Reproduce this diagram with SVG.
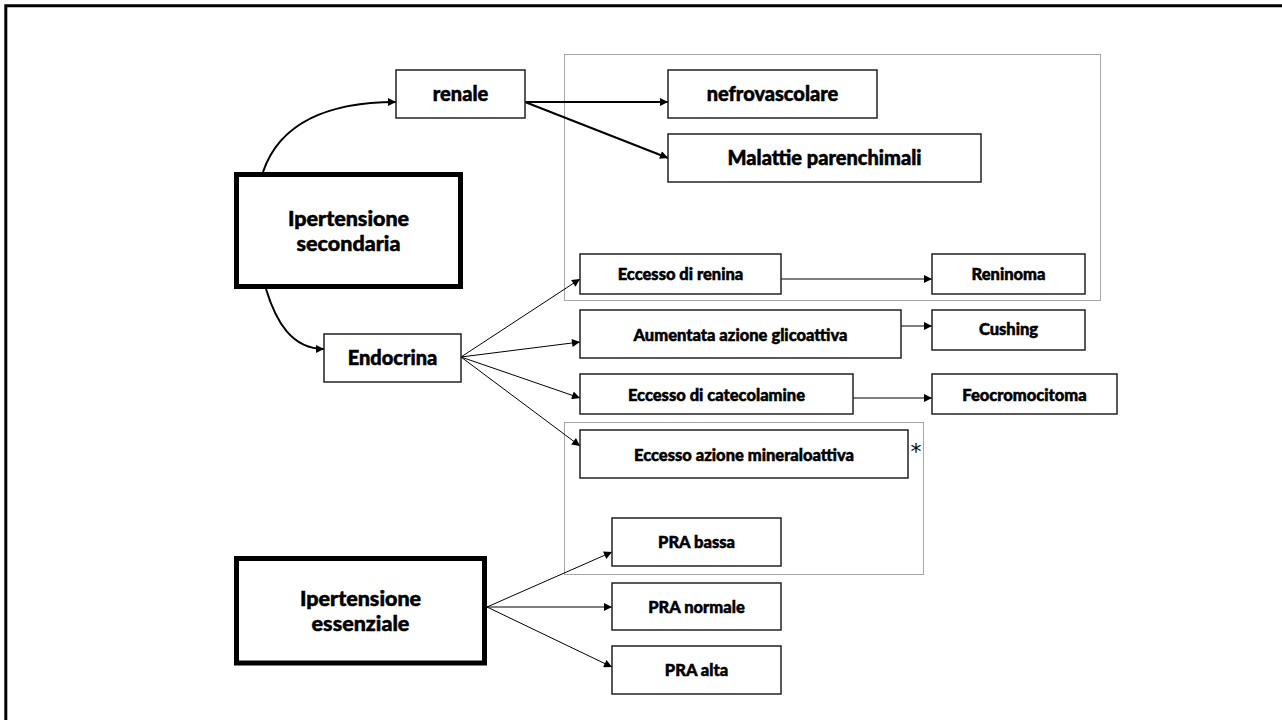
<svg xmlns="http://www.w3.org/2000/svg" width="1282" height="720" viewBox="0 0 1282 720">
<defs>
<style>
.box{fill:#fff;stroke:#222;stroke-width:1.5}
.main{fill:#fff;stroke:#000;stroke-width:5}
.grp{fill:none;stroke:#a6a6a6;stroke-width:1}
.t{font-family:Lato,"Open Sans","DejaVu Sans",sans-serif;font-weight:900;fill:#000;stroke:#000;stroke-width:0.5;text-anchor:middle}
.big{font-size:21.5px}
.med{font-size:20px}
.sm{font-size:16.5px}
.thick{fill:none;stroke:#000;stroke-width:2}
.thin{fill:none;stroke:#000;stroke-width:1}
</style>
<marker id="ah" viewBox="0 0 10 10" refX="10" refY="5" markerWidth="10" markerHeight="8" markerUnits="userSpaceOnUse" orient="auto">
<path d="M0,0 L10,5 L0,10 z" fill="#000"/>
</marker>
</defs>
<rect width="1282" height="720" fill="#fff"/>
<path d="M5.8,720 V5.8 H1282" fill="none" stroke="#000" stroke-width="3"/>
<g id="gruppi">
<rect class="grp" x="564.5" y="54.5" width="536" height="246"/>
<rect class="grp" x="564.5" y="422.5" width="359" height="152"/>
</g>
<g id="connectors">
<path class="thick" d="M263,172 C280,122 330,102 396,102" marker-end="url(#ah)"/>
<path class="thick" d="M266,289 C276,322 292,349 324,349" marker-end="url(#ah)"/>
<path class="thick" d="M525,102 L668,102" marker-end="url(#ah)"/>
<path class="thick" d="M525,102 L668,158" marker-end="url(#ah)"/>
<path class="thin" d="M461,357 L580,279" marker-end="url(#ah)"/>
<path class="thin" d="M461,357 L580,342" marker-end="url(#ah)"/>
<path class="thin" d="M461,357 L580,398" marker-end="url(#ah)"/>
<path class="thin" d="M461,357 L580,446" marker-end="url(#ah)"/>
<path class="thin" d="M781,279 L932,279" marker-end="url(#ah)"/>
<path class="thin" d="M901,326 L932,326" marker-end="url(#ah)"/>
<path class="thin" d="M853,398 L932,398" marker-end="url(#ah)"/>
<path class="thin" d="M487,607 L612,552" marker-end="url(#ah)"/>
<path class="thin" d="M487,607 L612,607" marker-end="url(#ah)"/>
<path class="thin" d="M487,607 L612,667" marker-end="url(#ah)"/>
</g>
<g id="secondaria">
<rect class="main" x="236.5" y="174.5" width="224" height="112"/>
<text class="t big" x="348.5" y="225.5">Ipertensione</text>
<text class="t big" x="348.5" y="250.5">secondaria</text>
</g>
<g id="essenziale">
<rect class="main" x="236.5" y="558.5" width="248" height="104.5"/>
<text class="t big" x="360.5" y="606">Ipertensione</text>
<text class="t big" x="360.5" y="631">essenziale</text>
</g>
<g id="renale">
<rect class="box" x="396" y="70" width="129" height="48"/>
<text class="t med" x="460.5" y="100.5">renale</text>
</g>
<g id="endocrina">
<rect class="box" x="324" y="334" width="137" height="48"/>
<text class="t med" x="392.5" y="364.5">Endocrina</text>
</g>
<g id="nefrovascolare">
<rect class="box" x="668" y="70" width="209" height="48"/>
<text class="t med" x="772.5" y="100.5">nefrovascolare</text>
</g>
<g id="parenchimali">
<rect class="box" x="668" y="134" width="313" height="48"/>
<text class="t med" x="824.5" y="165">Malattie parenchimali</text>
</g>
<g id="renina">
<rect class="box" x="580" y="254" width="201" height="40"/>
<text class="t sm" x="680.5" y="280">Eccesso di renina</text>
</g>
<g id="reninoma">
<rect class="box" x="932" y="254" width="153" height="40"/>
<text class="t sm" x="1008.5" y="280">Reninoma</text>
</g>
<g id="glicoattiva">
<rect class="box" x="580" y="310" width="321" height="48"/>
<text class="t sm" x="740.5" y="340.5">Aumentata azione glicoattiva</text>
</g>
<g id="cushing">
<rect class="box" x="932" y="310" width="153" height="40"/>
<text class="t sm" x="1008.5" y="334.5">Cushing</text>
</g>
<g id="catecolamine">
<rect class="box" x="580" y="374" width="273" height="40"/>
<text class="t sm" x="716.5" y="400.5">Eccesso di catecolamine</text>
</g>
<g id="feocromocitoma">
<rect class="box" x="932" y="374" width="185" height="40"/>
<text class="t sm" x="1024.5" y="400.5">Feocromocitoma</text>
</g>
<g id="mineraloattiva">
<rect class="box" x="580" y="430" width="328" height="48"/>
<text class="t sm" x="744" y="460.5">Eccesso azione mineraloattiva</text>
<text x="916" y="459" font-family="'DejaVu Sans',sans-serif" font-size="22" text-anchor="middle" fill="#000">*</text>
</g>
<g id="pra-bassa">
<rect class="box" x="612" y="518" width="169" height="48"/>
<text class="t sm" x="696.5" y="548">PRA bassa</text>
</g>
<g id="pra-normale">
<rect class="box" x="612" y="583" width="169" height="47"/>
<text class="t sm" x="696.5" y="612.5">PRA normale</text>
</g>
<g id="pra-alta">
<rect class="box" x="612" y="646" width="169" height="48"/>
<text class="t sm" x="696.5" y="676">PRA alta</text>
</g>
</svg>
